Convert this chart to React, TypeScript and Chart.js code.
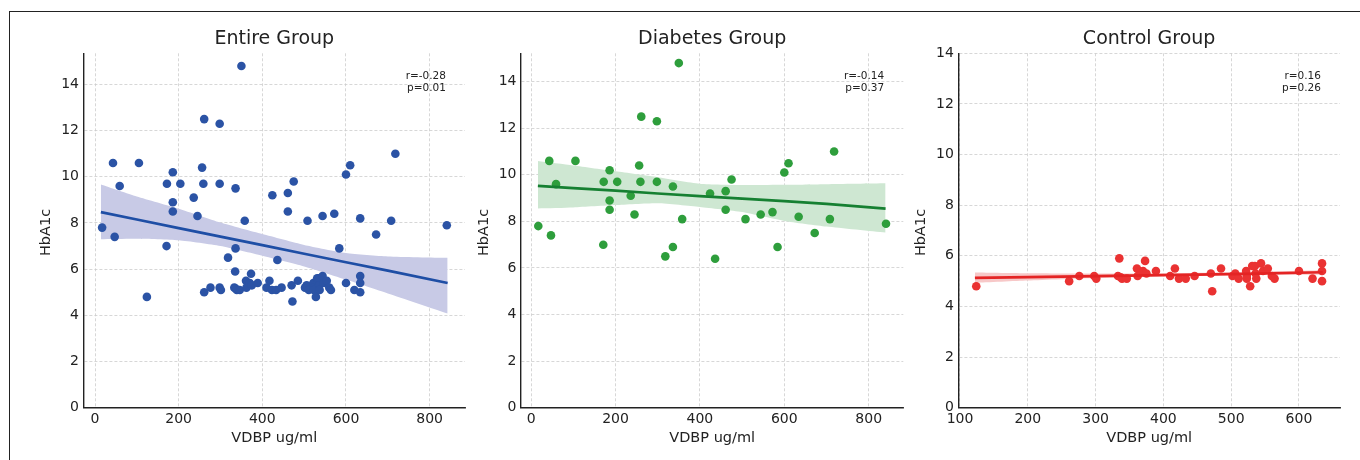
import React, { useEffect, useRef } from "react";
import { Chart, registerables } from "chart.js";
Chart.register(...registerables);

const FONT = '"DejaVu Sans", "Liberation Sans", sans-serif';
const TEXT = "#222222";

// ---------- data ----------
const diabetesX = [17, 43, 47, 59, 105, 171, 172, 186, 186, 186, 204, 236, 245, 256, 259, 261, 298, 298, 318, 336, 336, 350, 358, 424, 436, 461, 461, 475, 508, 544, 572, 584, 600, 610, 634, 672, 708, 718, 841];
const diabetesY = [7.8, 10.6, 7.4, 9.6, 10.6, 7.0, 9.7, 10.2, 8.9, 8.5, 9.7, 9.1, 8.3, 10.4, 9.7, 12.5, 9.7, 12.3, 6.5, 9.5, 6.9, 14.8, 8.1, 9.2, 6.4, 9.3, 8.5, 9.8, 8.1, 8.3, 8.4, 6.9, 10.1, 10.5, 8.2, 7.5, 8.1, 11.0, 7.9];

const controlX = [124, 261, 276, 298, 301, 335, 333, 337, 339, 346, 361, 362, 370, 373, 375, 389, 410, 417, 423, 433, 446, 470, 472, 485, 502, 506, 511, 522, 523, 523, 528, 531, 535, 536, 537, 544, 547, 554, 560, 564, 600, 620, 634, 634, 634];
const controlY = [4.8, 5.0, 5.2, 5.2, 5.1, 5.9, 5.2, 5.15, 5.1, 5.1, 5.5, 5.2, 5.4, 5.8, 5.3, 5.4, 5.2, 5.5, 5.1, 5.1, 5.2, 5.3, 4.6, 5.5, 5.2, 5.3, 5.1, 5.4, 5.2, 5.1, 4.8, 5.6, 5.6, 5.3, 5.1, 5.7, 5.4, 5.5, 5.2, 5.1, 5.4, 5.1, 5.7, 5.4, 5.0];

// regression line and confidence band
const entireBandX = [14, 100, 200, 300, 400, 500, 600, 700, 843];
const entireFit = [8.47, 8.15, 7.78, 7.41, 7.04, 6.67, 6.30, 5.94, 5.40];
const entireUpper = [9.67, 9.15, 8.62, 8.02, 7.52, 7.05, 6.70, 6.55, 6.49];
const entireLower = [7.30, 7.32, 7.25, 7.00, 6.58, 6.12, 5.55, 4.95, 4.08];

const diabetesBandX = [16, 100, 200, 300, 400, 500, 600, 700, 840];
const diabetesFit = [9.53, 9.43, 9.32, 9.20, 9.09, 8.98, 8.87, 8.75, 8.55];
const diabetesUpper = [10.59, 10.40, 10.15, 9.90, 9.62, 9.56, 9.57, 9.60, 9.64];
const diabetesLower = [8.56, 8.60, 8.70, 8.78, 8.62, 8.40, 8.02, 7.78, 7.52];

const controlBandX = [122, 200, 300, 400, 500, 635];
const controlFit = [5.13, 5.16, 5.20, 5.24, 5.28, 5.35];
const controlUpper = [5.34, 5.31, 5.30, 5.31, 5.35, 5.43];
const controlLower = [4.93, 5.02, 5.12, 5.20, 5.24, 5.25];

const xTicksWide = [0, 200, 400, 600, 800];
const xTicksControl = [100, 200, 300, 400, 500, 600];
const yTicks = [0, 2, 4, 6, 8, 10, 12, 14];

const titles = ["Entire Group", "Diabetes Group", "Control Group"];
const stats = [["r=-0.28", "p=0.01"], ["r=-0.14", "p=0.37"], ["r=0.16", "p=0.26"]];
const X_LABEL = "VDBP ug/ml";
const Y_LABEL = "HbA1c";

type Panel = {
  xs: number[]; ys: number[];
  bandX: number[]; fit: number[]; upper: number[]; lower: number[];
  xTicks: number[]; xMin: number; xMax: number; yMax: number;
  title: string; stat: string[];
  point: string; line: string; band: string;
  canvasLeft: number; canvasWidth: number; caLeft: number; caRight: number;
};

const CA_TOP = 53.3;
const CA_BOTTOM = 407.7;
const H = 460;

const panels: Panel[] = [
  {
    xs: [...diabetesX, ...controlX], ys: [...diabetesY, ...controlY],
    bandX: entireBandX, fit: entireFit, upper: entireUpper, lower: entireLower,
    xTicks: xTicksWide, xMin: -27.5, xMax: 884.5, yMax: 15.35,
    title: titles[0], stat: stats[0],
    point: "rgb(43,83,165)", line: "rgb(30,78,165)", band: "rgb(200,202,230)",
    canvasLeft: 20, canvasWidth: 455, caLeft: 83.5, caRight: 465,
  },
  {
    xs: diabetesX, ys: diabetesY,
    bandX: diabetesBandX, fit: diabetesFit, upper: diabetesUpper, lower: diabetesLower,
    xTicks: xTicksWide, xMin: -24, xMax: 882, yMax: 15.22,
    title: titles[1], stat: stats[1],
    point: "rgb(46,158,60)", line: "rgb(22,128,50)", band: "rgb(206,231,210)",
    canvasLeft: 460, canvasWidth: 454, caLeft: 521, caRight: 903.3,
  },
  {
    xs: controlX, ys: controlY,
    bandX: controlBandX, fit: controlFit, upper: controlUpper, lower: controlLower,
    xTicks: xTicksControl, xMin: 97.5, xMax: 660.5, yMax: 14,
    title: titles[2], stat: stats[2],
    point: "rgb(234,50,50)", line: "rgb(228,36,36)", band: "rgb(247,200,200)",
    canvasLeft: 895, canvasWidth: 465, caLeft: 958.3, caRight: 1340,
  },
];

function textPlugin(p: Panel) {
  return {
    id: "panelText",
    afterDraw(chart: any) {
      const { ctx, chartArea: ca } = chart;
      ctx.save();
      ctx.fillStyle = TEXT;
      ctx.textBaseline = "middle";
      ctx.textAlign = "center";
      const cx = (ca.left + ca.right) / 2;
      ctx.font = `19px ${FONT}`;
      ctx.fillText(p.title, cx, 39.5);
      ctx.font = `14.5px ${FONT}`;
      ctx.fillText(X_LABEL, cx, 438.5);
      ctx.save();
      ctx.translate(ca.left - 37, (ca.top + ca.bottom) / 2 + 2);
      ctx.rotate(-Math.PI / 2);
      ctx.fillText(Y_LABEL, 0, 0);
      ctx.restore();
      ctx.font = `10.5px ${FONT}`;
      ctx.textAlign = "right";
      const rx = ca.left + 0.95 * (ca.right - ca.left);
      ctx.fillText(p.stat[0], rx, 76);
      ctx.fillText(p.stat[1], rx, 88.5);
      ctx.restore();
    },
  };
}

function PanelChart({ p }: { p: Panel }) {
  const ref = useRef<HTMLCanvasElement | null>(null);
  useEffect(() => {
    if (!ref.current) return;
    const pts = p.xs.map((x, i) => ({ x, y: p.ys[i] }));
    const fitPts = p.bandX.map((x, i) => ({ x, y: p.fit[i] }));
    const upPts = p.bandX.map((x, i) => ({ x, y: p.upper[i] }));
    const loPts = p.bandX.map((x, i) => ({ x, y: p.lower[i] }));
    const yAxisWidth = p.caLeft - p.canvasLeft;
    const padRight = p.canvasLeft + p.canvasWidth - p.caRight;
    const xAxisHeight = H - CA_BOTTOM;
    const tickFont = { family: FONT, size: 14 };
    const chart = new Chart(ref.current, {
      type: "scatter",
      data: {
        datasets: [
          { type: "line", data: fitPts, borderColor: p.line, borderWidth: 2.7, pointRadius: 0, fill: false, tension: 0 } as any,
          { type: "scatter", data: pts, backgroundColor: p.point, borderWidth: 0, pointRadius: 4.3, pointHoverRadius: 4.3 } as any,
          { type: "line", data: upPts, borderWidth: 0, borderColor: "rgba(0,0,0,0)", pointRadius: 0, fill: "+1", backgroundColor: p.band, tension: 0.2 } as any,
          { type: "line", data: loPts, borderWidth: 0, borderColor: "rgba(0,0,0,0)", pointRadius: 0, fill: false, tension: 0.2 } as any,
        ],
      },
      options: {
        animation: false,
        responsive: false,
        maintainAspectRatio: false,
        events: [],
        layout: { padding: { top: CA_TOP, left: 0, right: padRight, bottom: 0 } },
        plugins: { legend: { display: false }, tooltip: { enabled: false }, title: { display: false } },
        scales: {
          x: {
            type: "linear",
            min: p.xMin,
            max: p.xMax,
            afterBuildTicks: (s: any) => { s.ticks = p.xTicks.map((v) => ({ value: v })); },
            afterFit: (s: any) => { s.height = xAxisHeight; },
            ticks: { font: tickFont, color: TEXT, padding: 3, maxRotation: 0, autoSkip: false, callback: (v: any) => String(v) },
            grid: { color: "#cdcdcd", lineWidth: 0.8, drawTicks: false },
            border: { display: true, color: "#222", width: 1.4, dash: [3, 2] },
          },
          y: {
            type: "linear",
            min: 0,
            max: p.yMax,
            afterBuildTicks: (s: any) => { s.ticks = yTicks.map((v) => ({ value: v })); },
            afterFit: (s: any) => { s.width = yAxisWidth; },
            ticks: { font: tickFont, color: TEXT, padding: 4.5, autoSkip: false, callback: (v: any) => String(v) },
            grid: { color: "#cdcdcd", lineWidth: 0.8, drawTicks: false },
            border: { display: true, color: "#222", width: 1.4, dash: [3, 2] },
          },
        },
      } as any,
      plugins: [textPlugin(p)],
    });
    return () => chart.destroy();
  }, [p]);
  return (
    <canvas
      ref={ref}
      width={p.canvasWidth}
      height={H}
      style={{ position: "absolute", left: p.canvasLeft, top: 0, width: p.canvasWidth, height: H }}
    />
  );
}

export default function App() {
  return (
    <div style={{ position: "fixed", left: 0, top: 0, width: 1360, height: 460, background: "#fff", overflow: "hidden" }}>
      <div style={{ position: "absolute", left: 9, top: 11, width: 1400, height: 500, borderLeft: "1.5px solid #222", borderTop: "1.5px solid #222" }} />
      {panels.map((p, i) => (
        <PanelChart key={i} p={p} />
      ))}
    </div>
  );
}
